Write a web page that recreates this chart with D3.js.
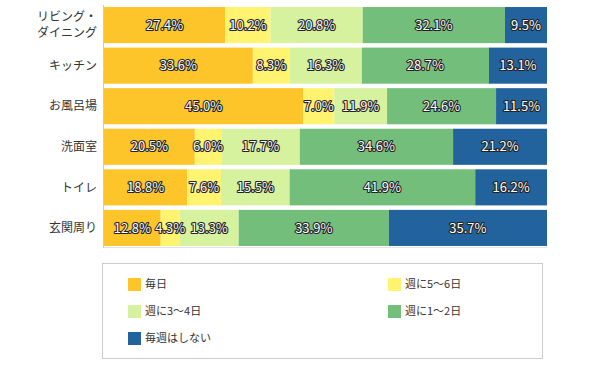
<!DOCTYPE html>
<html><head><meta charset="utf-8">
<script src="https://cdn.jsdelivr.net/npm/d3@7/dist/d3.min.js"></script>
<style>body{margin:0;background:#fff}svg{display:block}</style>
</head><body><svg id="c" width="601" height="369"></svg>
<script>
const categories = ["リビング・ダイニング","キッチン","お風呂場","洗面室","トイレ","玄関周り"];
const categoryLines = [["リビング・","ダイニング"],["キッチン"],["お風呂場"],["洗面室"],["トイレ"],["玄関周り"]];
const seriesNames = ["毎日","週に5～6日","週に3～4日","週に1～2日","毎週はしない"];
const daily =      [27.4,33.6,45.0,20.5,18.8,12.8];
const fiveSix =    [10.2, 8.3, 7.0, 6.0, 7.6, 4.3];
const threeFour =  [20.8,16.3,11.9,17.7,15.5,13.3];
const oneTwo =     [32.1,28.7,24.6,34.6,41.9,33.9];
const notWeekly =  [ 9.5,13.1,11.5,21.2,16.2,35.7];
const colors = ["#fec52b","#fff370","#d6f29e","#74be7b","#22639e"];

const series = [daily,fiveSix,threeFour,oneTwo,notWeekly];
const rows = categories.map((c,i)=>{const o={cat:c}; seriesNames.forEach((s,k)=>o[s]=series[k][i]); return o;});
const stack = d3.stack().keys(seriesNames)(rows);

const svg = d3.select("#c");
const x0=104, x1=547, y0=5, y1=248;
const x = d3.scaleLinear().domain([0,100]).range([x0,x1]);
const y = d3.scaleBand().domain(categories).range([y0,y1]).paddingInner(0.11).paddingOuter(0.05);

svg.append("g").selectAll("g").data(stack).join("g").attr("fill",(d,i)=>colors[i])
 .selectAll("rect").data(d=>d).join("rect")
 .attr("x",d=>x(d[0])).attr("y",d=>y(d.data.cat))
 .attr("width",d=>x(d[1])-x(d[0])).attr("height",y.bandwidth());

// value labels
const lab = svg.append("g").attr("font-family","'Noto Sans CJK JP','Noto Sans',sans-serif").attr("font-size",13).attr("text-anchor","middle");
stack.forEach((s,k)=>{
  s.forEach(d=>{
    lab.append("text").attr("x",(x(d[0])+x(d[1]))/2).attr("y",y(d.data.cat)+y.bandwidth()/2).attr("dy","0.36em")
      .attr("fill","#fff").attr("stroke","#222").attr("stroke-width",2.2).attr("paint-order","stroke").attr("stroke-linejoin","round")
      .text(d3.format(".1f")(d[1]-d[0])+"%");
  });
});

// axis line
svg.append("line").attr("x1",103.5).attr("x2",103.5).attr("y1",y0).attr("y2",y1).attr("stroke","#ccc");
svg.append("line").attr("x1",104).attr("x2",x1).attr("y1",y1-0.5).attr("y2",y1-0.5).attr("stroke","#e4e4e4");

// category labels
const cl = svg.append("g").attr("font-family","'Noto Sans CJK JP','Noto Sans',sans-serif").attr("font-size",12).attr("fill","#333").attr("text-anchor","end");
categories.forEach((c,i)=>{
  const lines = categoryLines[i];
  const cy = y(c)+y.bandwidth()/2;
  const t = cl.append("text").attr("x",97).attr("y",cy - (lines.length-1)*8).attr("dy","0.35em");
  lines.forEach((l,j)=>t.append("tspan").attr("x",97).attr("dy",j===0?"0.35em":"16").text(l));
});

// legend
const lg = svg.append("g").attr("font-family","'Noto Sans CJK JP','Noto Sans',sans-serif").attr("font-size",11).attr("fill","#333");
lg.append("rect").attr("x",102.5).attr("y",263.5).attr("width",440).attr("height",95).attr("fill","none").attr("stroke","#ccc");
const pos = [[128,278],[388,278],[128,305],[388,305],[128,332]];
seriesNames.forEach((s,i)=>{
  lg.append("rect").attr("x",pos[i][0]).attr("y",pos[i][1]).attr("width",13).attr("height",13).attr("fill",colors[i]);
  lg.append("text").attr("x",pos[i][0]+17).attr("y",pos[i][1]+6.5).attr("dy","0.36em").text(s);
});
</script></body></html>
